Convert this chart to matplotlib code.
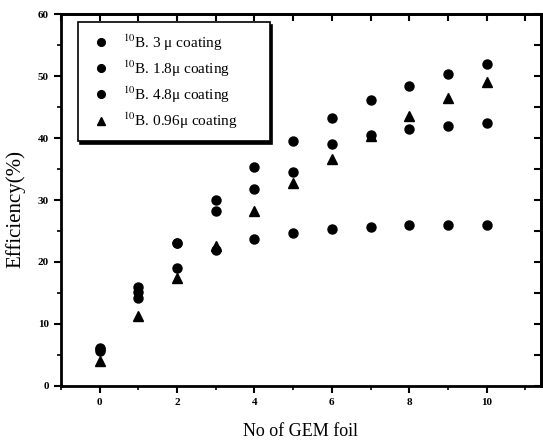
import matplotlib
matplotlib.use("Agg")
import matplotlib.pyplot as plt
from matplotlib.ticker import MultipleLocator

plt.rcParams['font.family'] = ['Liberation Serif', 'DejaVu Serif']
plt.rcParams['mathtext.fontset'] = 'stix'

foils = [0, 1, 2, 3, 4, 5, 6, 7, 8, 9, 10]
eff_3um = [5.7, 15.2, 19.0, 28.3, 31.8, 34.6, 39.0, 40.5, 41.4, 41.9, 42.5]
eff_1p8um = [6.1, 16.0, 23.1, 30.0, 35.4, 39.6, 43.2, 46.1, 48.4, 50.3, 51.9]
eff_4p8um = [6.0, 14.2, 23.0, 22.0, 23.7, 24.6, 25.3, 25.7, 25.9, 25.9, 26.0]
eff_0p96um = [4.0, 11.2, 17.4, 22.5, 28.3, 32.7, 36.6, 40.3, 43.6, 46.4, 49.0]

labels = [r"$^{10}$B. 3 μ coating", r"$^{10}$B. 1.8μ coating",
          r"$^{10}$B. 4.8μ coating", r"$^{10}$B. 0.96μ coating"]

fig = plt.figure(figsize=(5.43, 4.42), dpi=100)
ax = fig.add_axes([0.112, 0.127, 0.884, 0.841])

ms = 6.5
ax.plot(foils, eff_3um, 'o', color='black', ms=ms, label=labels[0])
ax.plot(foils, eff_1p8um, 'o', color='black', ms=ms, label=labels[1])
ax.plot(foils, eff_4p8um, 'o', color='black', ms=ms, label=labels[2])
ax.plot(foils, eff_0p96um, '^', color='black', ms=ms, label=labels[3])

ax.set_xlim(-1, 11.4)
ax.set_ylim(0, 60)
ax.xaxis.set_major_locator(MultipleLocator(2))
ax.xaxis.set_minor_locator(MultipleLocator(1))
ax.yaxis.set_major_locator(MultipleLocator(10))
ax.yaxis.set_minor_locator(MultipleLocator(5))
ax.tick_params(which='major', direction='out', length=5, width=1.5, labelsize=8)
ax.tick_params(which='minor', direction='out', length=3, width=1.2)
for lab in ax.get_xticklabels() + ax.get_yticklabels():
    lab.set_fontweight('bold')

secx = ax.secondary_xaxis('top')
secx.xaxis.set_major_locator(MultipleLocator(1))
secx.tick_params(direction='in', length=5, width=1.5, labeltop=False)
secy = ax.secondary_yaxis('right')
secy.yaxis.set_major_locator(MultipleLocator(5))
secy.tick_params(direction='in', length=5, width=1.5, labelright=False)

for sp in ax.spines.values():
    sp.set_linewidth(2)
secx.spines['top'].set_linewidth(2)
secy.spines['right'].set_linewidth(2)

ax.set_xlabel("No of GEM foil", fontsize=13, labelpad=12)
ax.set_ylabel("Efficiency(%)", fontsize=15)
ax.yaxis.set_label_coords(-0.074, 0.475)

leg = ax.legend(loc='upper left', bbox_to_anchor=(0.035, 0.661, 0.40, 0.317),
                mode='expand', borderaxespad=0, fontsize=11, markerscale=0.85,
                frameon=True, fancybox=False,
                shadow={'color': 'black', 'alpha': 1.0}, edgecolor='black',
                labelspacing=0.38, handletextpad=0.5, borderpad=0.65,
                handlelength=1.8)
leg.get_frame().set_linewidth(1.2)

fig.savefig("out.png", dpi=100)
